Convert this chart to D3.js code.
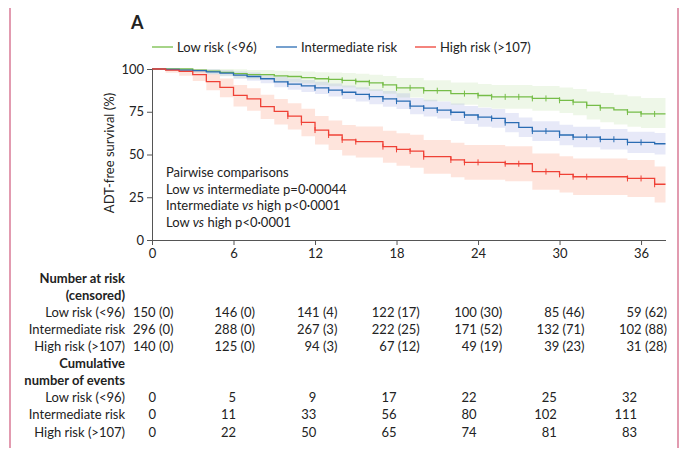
<!DOCTYPE html>
<html>
<head>
<meta charset="utf-8">
<script src="https://cdn.jsdelivr.net/npm/d3@7"></script>
<style>
  body { margin: 0; background: #fff; }
  svg text { font-family: Lato, "Open Sans", sans-serif; fill: #222; }
</style>
</head>
<body>
<svg id="km" width="689" height="462"></svg>
<script>
// ---- data ----
var groups = ["Low risk (<96)", "Intermediate risk", "High risk (>107)"];
var followUpEnd = 37.8;

var lowTimes  = [0, 3, 4, 5, 6, 7, 9, 10, 11, 12, 13, 14, 15, 16, 17, 18, 20, 22, 24, 25, 28, 30, 31, 32, 33, 34, 35, 36];
var lowSurv   = [100, 99.3, 98.7, 98.0, 97.3, 96.7, 96.0, 95.6, 95.0, 94.3, 93.9, 93.4, 92.7, 91.9, 90.7, 89.0, 87.3, 85.6, 84.5, 83.7, 82.8, 81.7, 80.6, 78.7, 77.3, 76.1, 74.8, 73.7];
var lowUpper  = [100, 100, 100, 100, 99.8, 99.4, 99.0, 98.8, 98.5, 98.1, 97.9, 97.6, 97.2, 96.7, 95.9, 94.7, 93.4, 92.1, 91.3, 90.7, 90.0, 89.2, 88.3, 86.9, 85.9, 85.0, 84.0, 83.0];
var lowLower  = [100, 98.0, 97.0, 96.0, 94.8, 94.0, 92.9, 92.3, 91.5, 90.5, 89.9, 89.2, 88.2, 87.1, 85.5, 83.3, 81.2, 79.1, 77.7, 76.7, 75.6, 74.2, 72.9, 70.5, 68.9, 67.6, 66.3, 65.5];
var lowCens   = [13, 14, 15, 16, 17, 18, 19, 20, 21, 23, 24, 25, 26, 27, 28, 29, 30, 31, 32, 33, 35, 36, 37];

var intTimes  = [0, 1, 2, 3, 4, 5, 6, 7, 8, 9, 10, 11, 12, 13, 14, 15, 16, 17, 18, 19, 20, 21, 22, 23, 24, 25, 26, 27, 28, 30, 31, 33, 35, 37];
var intSurv   = [100, 99.7, 99.3, 99.0, 98.3, 97.6, 96.4, 95.6, 94.3, 92.5, 91.2, 90.1, 89.0, 87.7, 86.4, 85.2, 83.8, 82.5, 81.2, 78.3, 77.1, 76.0, 74.7, 73.1, 71.8, 71.1, 68.6, 65.9, 63.7, 61.4, 60.2, 58.9, 57.1, 56.3];
var intUpper  = [100, 100, 100, 100, 99.9, 99.4, 98.6, 98.0, 97.0, 95.6, 94.5, 93.6, 92.6, 91.5, 90.4, 89.4, 88.2, 87.1, 85.8, 83.1, 82.0, 81.0, 79.8, 78.3, 77.3, 76.6, 74.2, 71.6, 69.5, 67.4, 66.2, 64.9, 63.3, 62.6];
var intLower  = [100, 99.2, 98.5, 98.0, 96.8, 95.8, 94.2, 93.2, 91.6, 89.4, 87.9, 86.6, 85.4, 83.9, 82.4, 81.0, 79.4, 77.9, 76.6, 73.5, 72.2, 71.0, 69.6, 67.9, 66.3, 65.6, 63.0, 60.2, 57.9, 55.4, 54.2, 52.9, 50.9, 50.0];
var intCens   = [10, 12, 13, 14, 16, 17, 18, 19, 20, 21, 22, 23, 24, 25, 26, 28, 29, 30, 31, 32, 33, 34, 35, 36];

var highTimes = [0, 1, 2, 3, 4, 5, 6, 7, 8, 9, 10, 11, 12, 13, 14, 15, 17, 18, 19, 20, 22, 23, 26, 28, 30, 31, 35, 37];
var highSurv  = [100, 99.4, 98.6, 96.7, 92.6, 89.3, 84.6, 82.5, 78.0, 75.2, 72.5, 68.8, 64.3, 61.4, 58.5, 57.5, 54.6, 53.0, 52.0, 48.7, 46.8, 45.4, 44.6, 40.0, 38.4, 37.0, 36.0, 32.6];
var highUpper = [100, 100, 100, 99.6, 97.0, 94.5, 90.6, 88.8, 84.9, 82.4, 80.0, 76.8, 72.5, 69.9, 67.3, 66.4, 63.9, 62.5, 61.6, 58.5, 56.8, 55.5, 54.8, 50.6, 49.0, 47.7, 46.8, 43.0];
var highLower = [100, 97.8, 96.0, 93.0, 87.6, 83.5, 78.0, 75.6, 70.8, 67.6, 64.6, 60.6, 55.8, 52.6, 49.4, 48.3, 45.2, 43.4, 42.3, 38.8, 36.7, 35.2, 34.3, 29.4, 27.8, 26.3, 25.2, 22.0];
var highCens  = [10, 11, 12, 13, 14, 15, 17, 18, 19, 20, 22, 23, 24, 26, 27, 29, 30, 31, 32, 35, 36, 37];

var xTicks = [0, 6, 12, 18, 24, 30, 36];
var yTicks = [0, 25, 50, 75, 100];

var atRisk    = [["150 (0)", "146 (0)", "141 (4)", "122 (17)", "100 (30)", "85 (46)", "59 (62)"],
                 ["296 (0)", "288 (0)", "267 (3)", "222 (25)", "171 (52)", "132 (71)", "102 (88)"],
                 ["140 (0)", "125 (0)", "94 (3)", "67 (12)", "49 (19)", "39 (23)", "31 (28)"]];
var cumEvents = [[0, 5, 9, 17, 22, 25, 32],
                 [0, 11, 33, 56, 80, 102, 111],
                 [0, 22, 50, 65, 74, 81, 83]];

var pairwise = ["Low vs intermediate p=0·00044", "Intermediate vs high p<0·0001", "Low vs high p<0·0001"];

// ---- styling ----
var lineColor = ["#76bd48", "#2a6cb3", "#ef4136"];
var bandColor = ["rgba(150,205,110,0.16)", "rgba(120,135,215,0.18)", "rgba(250,150,120,0.26)"];

var svg = d3.select("#km");

// pink frame lines
svg.append("line").attr("x1", 10).attr("x2", 10).attr("y1", 8).attr("y2", 448)
    .attr("stroke", "#e29bb0").attr("stroke-width", 2);
svg.append("line").attr("x1", 678).attr("x2", 678).attr("y1", 8).attr("y2", 448)
    .attr("stroke", "#e29bb0").attr("stroke-width", 2);

var x = d3.scaleLinear().domain([0, followUpEnd]).range([152, 665.5]),
    y = d3.scaleLinear().domain([0, 100]).range([240, 69]);

var series = [
    { t: lowTimes, s: lowSurv, lo: lowLower, hi: lowUpper, c: lowCens },
    { t: intTimes, s: intSurv, lo: intLower, hi: intUpper, c: intCens },
    { t: highTimes, s: highSurv, lo: highLower, hi: highUpper, c: highCens }
];

function rows(d) {
    var out = d.t.map(function(t, i) { return { t: t, s: d.s[i], lo: d.lo[i], hi: d.hi[i] }; });
    var last = out[out.length - 1];
    out.push({ t: followUpEnd, s: last.s, lo: last.lo, hi: last.hi });
    return out;
}
function survAt(d, t) {
    var v = d.s[0];
    for (var i = 0; i < d.t.length; i++) if (d.t[i] <= t) v = d.s[i];
    return v;
}

var area = d3.area().curve(d3.curveStepAfter)
    .x(function(d) { return x(d.t); })
    .y0(function(d) { return y(d.lo); })
    .y1(function(d) { return y(d.hi); });
var line = d3.line().curve(d3.curveStepAfter)
    .x(function(d) { return x(d.t); })
    .y(function(d) { return y(d.s); });

var gPlot = svg.append("g");
series.forEach(function(d, i) {
    gPlot.append("path").attr("d", area(rows(d))).attr("fill", bandColor[i]).attr("stroke", "none");
});
series.forEach(function(d, i) {
    gPlot.append("path").attr("d", line(rows(d))).attr("fill", "none")
        .attr("stroke", lineColor[i]).attr("stroke-width", 1.3);
    gPlot.selectAll(".cens" + i)
        .data(d.c)
        .enter().append("line")
        .attr("class", "cens" + i)
        .attr("x1", function(t) { return x(t); })
        .attr("x2", function(t) { return x(t); })
        .attr("y1", function(t) { return y(survAt(d, t)) - 3; })
        .attr("y2", function(t) { return y(survAt(d, t)) + 3; })
        .attr("stroke", lineColor[i]).attr("stroke-width", 1);
});

// axes
var gx = svg.append("g")
    .attr("transform", "translate(0,240)")
    .call(d3.axisBottom(x).tickValues(xTicks).tickSize(5).tickSizeOuter(0).tickPadding(4));
var gy = svg.append("g")
    .attr("transform", "translate(152,0)")
    .call(d3.axisLeft(y).tickValues(yTicks).tickSize(5).tickSizeOuter(0).tickPadding(3));
[gx, gy].forEach(function(g) {
    g.select(".domain").attr("stroke", "#555");
    g.selectAll(".tick line").attr("stroke", "#555");
    g.selectAll(".tick text").attr("font-size", 13).attr("font-family", "Lato").attr("fill", "#222");
});

svg.append("text")
    .attr("transform", "translate(109,153) rotate(-90)")
    .attr("text-anchor", "middle")
    .attr("dy", "0.35em")
    .attr("font-size", 13)
    .text("ADT-free survival (%)");

// panel letter
svg.append("text").attr("x", 131).attr("y", 29)
    .attr("font-size", 18).attr("font-weight", "bold").text("A");

// legend
var legX = [152, 276, 415];
groups.forEach(function(g, i) {
    svg.append("line").attr("x1", legX[i]).attr("x2", legX[i] + 21)
        .attr("y1", 47).attr("y2", 47)
        .attr("stroke", lineColor[i]).attr("stroke-width", 1.3);
    svg.append("text").attr("x", legX[i] + 25).attr("y", 47).attr("dy", "0.35em")
        .attr("font-size", 13).text(g);
});

// pairwise comparisons
var pw = svg.append("text").attr("x", 166).attr("font-size", 13);
pw.append("tspan").attr("x", 166).attr("y", 172).attr("dy", "0.35em").text("Pairwise comparisons");
pairwise.forEach(function(s, i) {
    var parts = s.split(" vs ");
    var ts = pw.append("tspan").attr("x", 166).attr("y", 189 + i * 16.5).attr("dy", "0.35em");
    ts.append("tspan").text(parts[0] + " ");
    ts.append("tspan").attr("font-style", "italic").text("vs");
    ts.append("tspan").text(" " + parts[1]);
});

// tables
var rowY = d3.scaleLinear().domain([0, 9]).range([278, 432]);
var labelX = 125;
function rowLabel(txt, r, bold) {
    svg.append("text").attr("x", labelX).attr("y", rowY(r)).attr("dy", "0.35em")
        .attr("text-anchor", "end").attr("font-size", 13)
        .attr("font-weight", bold ? "bold" : "normal").text(txt);
}
rowLabel("Number at risk", 0, true);
rowLabel("(censored)", 1, true);
rowLabel("Cumulative", 5, true);
rowLabel("number of events", 6, true);

var riskCol = d3.scaleLinear().domain([6, 36]).range([255, 667]);
var eventCol = d3.scaleLinear().domain([0, 36]).range([156, 637]);

groups.forEach(function(g, gi) {
    rowLabel(g, 2 + gi, false);
    rowLabel(g, 7 + gi, false);
    atRisk[gi].forEach(function(v, j) {
        var t = xTicks[j];
        svg.append("text")
            .attr("x", j === 0 ? 133 : riskCol(t))
            .attr("y", rowY(2 + gi)).attr("dy", "0.35em")
            .attr("text-anchor", j === 0 ? "start" : "end")
            .attr("font-size", 13).text(v);
    });
    cumEvents[gi].forEach(function(v, j) {
        svg.append("text")
            .attr("x", eventCol(xTicks[j]))
            .attr("y", rowY(7 + gi)).attr("dy", "0.35em")
            .attr("text-anchor", "end")
            .attr("font-size", 13).text(v);
    });
});
</script>
</body>
</html>
